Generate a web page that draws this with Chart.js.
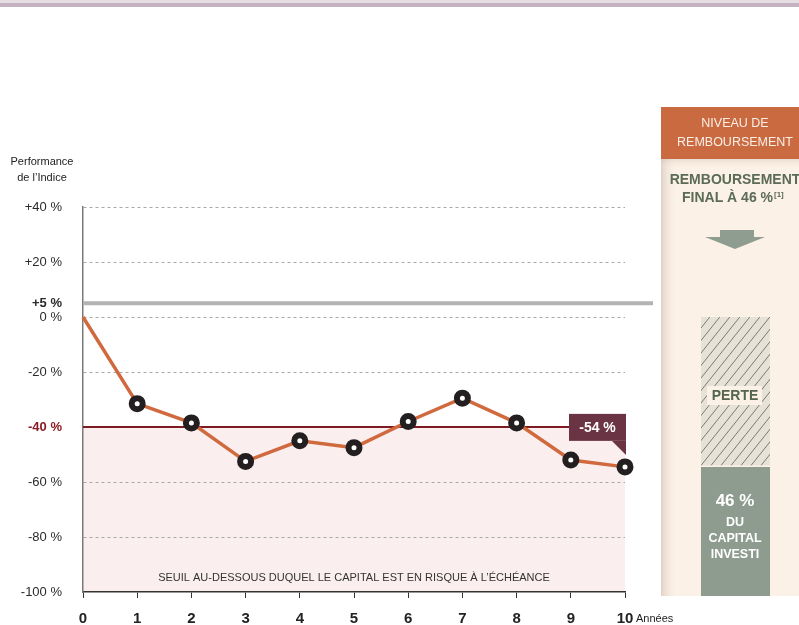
<!DOCTYPE html>
<html>
<head>
<meta charset="utf-8">
<script src="https://cdn.jsdelivr.net/npm/chart.js@4/dist/chart.umd.min.js"></script>
<style>
  html, body { margin: 0; padding: 0; background: #ffffff; }
  #wrap { width: 799px; height: 625px; position: relative; }
</style>
</head>
<body>
<div id="wrap"><canvas id="c" width="799" height="625"></canvas></div>
<script>
// ---- Data ----
const years = [0, 1, 2, 3, 4, 5, 6, 7, 8, 9, 10];
const performance = [0, -31.5, -38.5, -52.5, -45, -47.5, -38, -29.5, -38.5, -52, -54.5];
const yTickValues = [40, 20, 5, 0, -20, -40, -60, -80, -100];
const yTickLabels = ['+40 %', '+20 %', '+5 %', '0 %', '-20 %', '-40 %', '-60 %', '-80 %', '-100 %'];
const xTickLabels = ['0', '1', '2', '3', '4', '5', '6', '7', '8', '9', '10'];
const couponLevel = 5;
const capitalBarrier = -40;
const finalLabel = '-54 %';
const finalRepayment = 46;
const yAxisTitle = ['Performance', 'de l\u2019Indice'];
const xAxisTitle = 'Ann\u00e9es';
const barrierText = 'SEUIL AU-DESSOUS DUQUEL LE CAPITAL EST EN RISQUE \u00c0 L\u2019\u00c9CH\u00c9ANCE';
const panelHeader = ['NIVEAU DE', 'REMBOURSEMENT'];
const panelTitle = ['REMBOURSEMENT', 'FINAL \u00c0 46 %'];
const lossLabel = 'PERTE';
const keptLabel = ['46 %', 'DU', 'CAPITAL', 'INVESTI'];

const FONT = "'Liberation Sans', Arial, sans-serif";

const decorPlugin = {
  id: 'decor',
  beforeDraw(chart) {
    const { ctx, chartArea: a, scales: { y } } = chart;
    ctx.save();
    ctx.fillStyle = '#e6dee3';
    ctx.fillRect(0, 0, chart.width, 3);
    ctx.fillStyle = '#c4b2c2';
    ctx.fillRect(0, 3, chart.width, 4);
    const yb = y.getPixelForValue(capitalBarrier);
    const ymin = y.getPixelForValue(y.min);
    ctx.fillStyle = '#fbeeee';
    ctx.fillRect(a.left, yb, a.right - a.left, ymin - yb);
    ctx.restore();
  },
  beforeDatasetsDraw(chart) {
    const { ctx, chartArea: a, scales: { y } } = chart;
    ctx.save();
    const yc = y.getPixelForValue(couponLevel);
    ctx.strokeStyle = '#b3b3b3';
    ctx.lineWidth = 4;
    ctx.beginPath();
    ctx.moveTo(a.left, yc);
    ctx.lineTo(a.right + 28, yc);
    ctx.stroke();
    const yb = y.getPixelForValue(capitalBarrier);
    ctx.strokeStyle = '#7d1b22';
    ctx.lineWidth = 2;
    ctx.beginPath();
    ctx.moveTo(a.left, yb);
    ctx.lineTo(a.right, yb);
    ctx.stroke();
    ctx.fillStyle = '#333';
    ctx.font = '11px ' + FONT;
    ctx.textAlign = 'center';
    ctx.textBaseline = 'middle';
    ctx.fillText(barrierText, (a.left + a.right) / 2, y.getPixelForValue(-95));
    ctx.restore();
  },
  afterDatasetsDraw(chart) {
    const { ctx, chartArea: a, scales: { x, y } } = chart;
    const meta = chart.getDatasetMeta(0);
    const pt = meta.data[meta.data.length - 1];
    ctx.save();
    const right = pt.x + 1, left = right - 57, bottom = pt.y - 26, top = bottom - 27;
    ctx.fillStyle = '#6b3445';
    ctx.fillRect(left, top, right - left, bottom - top);
    ctx.beginPath();
    ctx.moveTo(right - 14, bottom);
    ctx.lineTo(right, bottom);
    ctx.lineTo(right, bottom + 14);
    ctx.closePath();
    ctx.fill();
    ctx.fillStyle = '#fff';
    ctx.font = 'bold 14px ' + FONT;
    ctx.textAlign = 'center';
    ctx.textBaseline = 'middle';
    ctx.fillText(finalLabel, (left + right) / 2, (top + bottom) / 2 + 1);

    ctx.fillStyle = '#222';
    ctx.font = '11px ' + FONT;
    ctx.fillText(yAxisTitle[0], 42, 162);
    ctx.fillText(yAxisTitle[1], 42, 178);
    ctx.textAlign = 'left';
    ctx.fillText(xAxisTitle, a.right + 11, 619);

    // ---- right panel ----
    const pL = 661, pR = 799;
    const hTop = 107, hBot = 159;
    const bodyBot = y.getPixelForValue(y.min) + 4;
    ctx.fillStyle = '#fcf1e6';
    ctx.fillRect(pL, hBot, pR - pL, bodyBot - hBot);
    const g = ctx.createLinearGradient(pL, 0, pL + 16, 0);
    g.addColorStop(0, 'rgba(190,170,160,0.45)');
    g.addColorStop(1, 'rgba(252,241,230,0)');
    ctx.fillStyle = g;
    ctx.fillRect(pL, hBot, 16, bodyBot - hBot);
    const g2 = ctx.createLinearGradient(0, hBot, 0, hBot + 10);
    g2.addColorStop(0, 'rgba(200,180,170,0.35)');
    g2.addColorStop(1, 'rgba(252,241,230,0)');
    ctx.fillStyle = g2;
    ctx.fillRect(pL, hBot, pR - pL, 10);
    ctx.fillStyle = '#c96a41';
    ctx.fillRect(pL, hTop, pR - pL, hBot - hTop);
    ctx.fillStyle = '#fbeee6';
    ctx.font = '12.5px ' + FONT;
    ctx.textAlign = 'center';
    ctx.fillText(panelHeader[0], 735, 124);
    ctx.fillText(panelHeader[1], 735, 143);
    ctx.fillStyle = '#5a6b56';
    ctx.font = 'bold 14px ' + FONT;
    ctx.fillText(panelTitle[0], 735, 180);
    ctx.textAlign = 'right';
    ctx.fillText(panelTitle[1], 773, 198);
    ctx.textAlign = 'left';
    ctx.font = 'bold 8px ' + FONT;
    ctx.fillText('[1]', 774, 195);
    ctx.fillStyle = '#8e9d90';
    ctx.fillRect(720, 230, 34, 8);
    ctx.beginPath();
    ctx.moveTo(705, 237);
    ctx.lineTo(765, 237);
    ctx.lineTo(735, 249);
    ctx.closePath();
    ctx.fill();
    const bL = 701, bR = 770;
    const y0 = y.getPixelForValue(0);
    const yf = y.getPixelForValue(finalRepayment - 100);
    ctx.fillStyle = '#e7e2d7';
    ctx.fillRect(bL, y0, bR - bL, yf - y0);
    ctx.save();
    ctx.beginPath();
    ctx.rect(bL, y0, bR - bL, yf - y0);
    ctx.clip();
    ctx.strokeStyle = '#6e6e66';
    ctx.lineWidth = 0.9;
    for (let k = -300; k < 300; k += 10) {
      ctx.beginPath();
      ctx.moveTo(bL + k, yf);
      ctx.lineTo(bL + k + (yf - y0) * 0.8, y0);
      ctx.stroke();
    }
    ctx.restore();
    ctx.fillStyle = '#fcf1e6';
    ctx.fillRect(707, 386, 55, 19);
    ctx.fillStyle = '#55654f';
    ctx.font = 'bold 14px ' + FONT;
    ctx.textAlign = 'center';
    ctx.textBaseline = 'middle';
    ctx.fillText(lossLabel, 735, 396);
    ctx.fillStyle = '#8e9c90';
    ctx.fillRect(bL, yf + 1.5, bR - bL, bodyBot - yf - 1.5);
    ctx.fillStyle = '#fff';
    ctx.font = 'bold 17px ' + FONT;
    ctx.fillText(keptLabel[0], 735, 501);
    ctx.font = 'bold 12.5px ' + FONT;
    ctx.fillText(keptLabel[1], 735, 523);
    ctx.fillText(keptLabel[2], 735, 539);
    ctx.fillText(keptLabel[3], 735, 555);
    ctx.restore();
  }
};

const ctx = document.getElementById('c').getContext('2d');
new Chart(ctx, {
  type: 'line',
  data: {
    datasets: [{
      data: years.map((yr, i) => ({ x: yr, y: performance[i] })),
      borderColor: '#d06a3e',
      borderWidth: 3.5,
      tension: 0,
      clip: false,
      pointRadius: years.map((yr, i) => i === 0 ? 0 : 5.5),
      pointHoverRadius: years.map((yr, i) => i === 0 ? 0 : 5.5),
      pointBorderWidth: 6,
      pointBorderColor: '#231f20',
      pointBackgroundColor: '#ffffff'
    }]
  },
  options: {
    responsive: false,
    animation: false,
    events: [],
    layout: { padding: { left: 0, right: 174, top: 207, bottom: 0 } },
    plugins: { legend: { display: false }, tooltip: { enabled: false } },
    scales: {
      x: {
        type: 'linear',
        min: 0, max: 10,
        afterFit: s => { s.height = 33; },
        afterBuildTicks: s => { s.ticks = years.map(v => ({ value: v })); },
        ticks: {
          autoSkip: false,
          padding: 12,
          color: '#222',
          font: { family: FONT, size: 15, weight: 'bold' },
          callback: (v, i) => xTickLabels[i]
        },
        grid: { drawOnChartArea: false, drawTicks: true, tickLength: 6, color: '#333', lineWidth: 1 },
        border: { display: true, color: '#333', width: 1.5 }
      },
      y: {
        min: -100, max: 40,
        afterFit: s => { s.width = 83; },
        afterBuildTicks: s => { s.ticks = yTickValues.map(v => ({ value: v })); },
        ticks: {
          autoSkip: false,
          padding: 21,
          color: c => c.tick && c.tick.value === capitalBarrier ? '#8b1c25' : '#2a2a2a',
          font: c => ({
            family: FONT,
            size: 13,
            weight: (c.tick && (c.tick.value === capitalBarrier || c.tick.value === couponLevel)) ? 'bold' : 'normal'
          }),
          callback: (v, i) => yTickLabels[i]
        },
        grid: {
          drawTicks: false,
          color: c => (c.tick && [couponLevel, capitalBarrier, -100].includes(c.tick.value)) ? 'rgba(0,0,0,0)' : '#a8a8a8',
          lineWidth: 1
        },
        border: { display: true, color: '#7a7a7a', width: 1.5, dash: [3, 3] }
      }
    }
  },
  plugins: [decorPlugin]
});
</script>
</body>
</html>
